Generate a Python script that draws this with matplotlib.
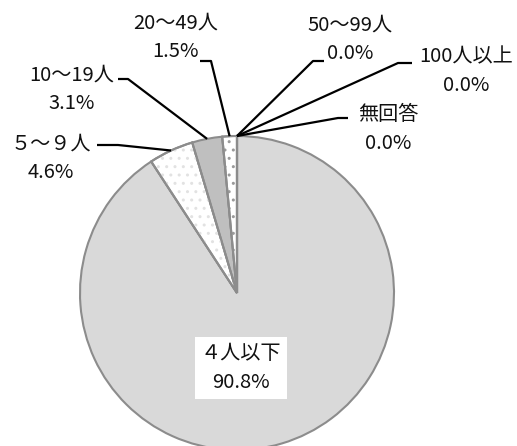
import matplotlib
matplotlib.use("Agg")
import matplotlib.pyplot as plt
from matplotlib.patches import Wedge
import numpy as np

plt.rcParams['font.family'] = ['Noto Sans CJK JP', 'DejaVu Sans']
plt.rcParams['hatch.linewidth'] = 1.0

categories = ["４人以下", "５～９人", "10～19人", "20～49人", "50～99人", "100人以上", "無回答"]
values = [90.8, 4.6, 3.1, 1.5, 0.0, 0.0, 0.0]

W, H = 517, 446
CX, CY, R = 237, 293, 157

fig = plt.figure(figsize=(W / 100, H / 100), dpi=100)
ax = fig.add_axes([0, 0, 1, 1])
ax.set_aspect('equal')
ax.axis('off')


def px(x, y):
    return (x - CX) / R, (CY - y) / R


face = ['#d9d9d9', '#ffffff', '#bfbfbf', '#ffffff', '#ffffff', '#ffffff', '#ffffff']
wedges, _ = ax.pie(values, startangle=90, counterclock=False, colors=face,
                   radius=1, center=(0, 0),
                   wedgeprops=dict(edgecolor='#8c8c8c', linewidth=1.5))
ax.set_xlim((0 - CX) / R, (W - CX) / R)
ax.set_ylim((CY - H) / R, CY / R)

# dotted patterns
hatch_specs = {1: ('#e2e2e2', '..'), 3: ('#9a9a9a', '..')}
for i, (hc, hp) in hatch_specs.items():
    w = wedges[i]
    ov = Wedge((0, 0), 1, w.theta1, w.theta2, facecolor='none', edgecolor=hc,
               linewidth=0, hatch=hp, zorder=w.get_zorder() + 0.1)
    ax.add_patch(ov)
    outline = Wedge((0, 0), 1, w.theta1, w.theta2, facecolor='none',
                    edgecolor='#8c8c8c', linewidth=1.5, zorder=w.get_zorder() + 0.2)
    ax.add_patch(outline)

# labels: (text center px, elbow px, end px)
layout = {
    1: ((51, 158), (118, 145), (97, 145)),
    2: ((72, 89), (128, 79), (118, 79)),
    3: ((176, 37), (211, 61), (200, 61)),
    4: ((350, 39), (313, 61), (324, 61)),
    5: ((466, 71), (398, 63), (412, 63)),
    6: ((388, 129), (338, 118), (348, 118)),
}

for i, (tc, elbow, end) in layout.items():
    w = wedges[i]
    mid = np.deg2rad((w.theta1 + w.theta2) / 2)
    p0 = (np.cos(mid), np.sin(mid))
    e = px(*elbow)
    q = px(*end)
    ax.plot([p0[0], e[0], q[0]], [p0[1], e[1], q[1]], color='black', lw=1.6,
            solid_capstyle='butt', zorder=5)
    t = px(*tc)
    ax.text(t[0], t[1], f"{categories[i]}\n{values[i]:.1f}%", ha='center', va='center',
            multialignment='center', fontsize=14.5, linespacing=1.45, color='#111111')

t = px(241, 368)
ax.text(t[0], t[1], f"{categories[0]}\n{values[0]:.1f}%", ha='center', va='center',
        multialignment='center', fontsize=14.5, linespacing=1.45, color='#111111',
        bbox=dict(boxstyle='square,pad=0.3', facecolor='white', edgecolor='none'),
        zorder=6)

fig.savefig("out.png", dpi=100)
